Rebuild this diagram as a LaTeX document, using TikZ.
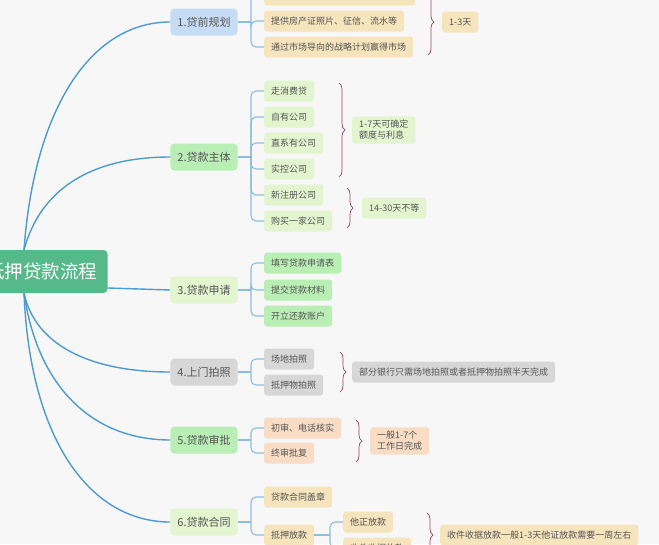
\documentclass[tikz,border=0pt]{standalone}
\usepackage{fontspec}
\setmainfont{Noto Sans CJK SC}
\usetikzlibrary{decorations.pathreplacing}
\definecolor{bg}{HTML}{F7F7F7}
\definecolor{linkblue}{HTML}{4A9BD6}
\definecolor{sublinkblue}{HTML}{8CBDE0}
\definecolor{bracered}{HTML}{A0445A}
\definecolor{rootgreen}{HTML}{55B98A}
\definecolor{skyfill}{HTML}{C6DCF4}
\definecolor{mintfill}{HTML}{B9EEB5}
\definecolor{palefill}{HTML}{E3F5CF}
\definecolor{grayfill}{HTML}{D7D7D7}
\definecolor{tanfill}{HTML}{F6E4BC}
\definecolor{peachfill}{HTML}{F8DCC4}
\definecolor{inktext}{HTML}{555555}
\tikzset{
  rootbox/.style={fill=rootgreen,rounded corners=4pt,text=white,
    font=\fontsize{18.5}{22}\selectfont,minimum height=43pt,inner xsep=10pt},
  topic/.style={rounded corners=4pt,text=inktext,
    font=\fontsize{11}{13}\selectfont,minimum height=27pt,inner xsep=7pt},
  leaf/.style={rounded corners=3pt,text=inktext,anchor=west,
    font=\fontsize{9}{11}\selectfont,minimum height=21pt,inner xsep=7pt},
  note/.style={leaf,align=left,inner ysep=4pt},
  link/.style={draw=linkblue,line width=1.4pt},
  sublink/.style={draw=sublinkblue,line width=1.1pt,rounded corners=5pt},
  curly/.style={draw=bracered,line width=0.7pt,decorate,
    decoration={brace,amplitude=6pt}}
}
\begin{document}
\begin{tikzpicture}[x=1pt,y=-1pt]
  % Background
  \path[use as bounding box,fill=bg] (0,0) rectangle (659,544);
  \clip (0,0) rectangle (659,544);

  % Root
  \node[rootbox] (root) at (42,271.5) {抵押贷款流程};
  \coordinate (rt) at (24,250);
  \coordinate (rb) at (24,293);
  \coordinate (rr) at (108,288);

  % Topics
  \node[topic,fill=skyfill] (t1) at (204,22) {1.贷前规划};
  \node[topic,fill=mintfill] (t2) at (204,157) {2.贷款主体};
  \node[topic,fill=palefill] (t3) at (204,290) {3.贷款申请};
  \node[topic,fill=grayfill] (t4) at (204,372) {4.上门拍照};
  \node[topic,fill=mintfill] (t5) at (204,440) {5.贷款审批};
  \node[topic,fill=palefill] (t6) at (204,522) {6.贷款合同};

  \draw[link] (rt) .. controls (34,110) and (90,22) .. (t1.west);
  \draw[link] (rt) .. controls (40,190) and (90,157) .. (t2.west);
  \draw[link] (rr) -- (t3.west);
  \draw[link] (rb) .. controls (35,345) and (90,372) .. (t4.west);
  \draw[link] (rb) .. controls (38,390) and (95,440) .. (t5.west);
  \draw[link] (rb) .. controls (30,440) and (90,522) .. (t6.west);

  % 1
  \node[leaf,fill=tanfill,minimum width=151pt] (l11) at (264,-5) {};
  \node[leaf,fill=tanfill] (l12) at (264,21) {提供房产证照片、征信、流水等};
  \node[leaf,fill=tanfill] (l13) at (264,47) {通过市场导向的战略计划赢得市场};
  \coordinate (j1) at (251,22);
  \draw[sublink] (t1.east) -- (j1);
  \foreach \n in {l11,l12,l13} \draw[sublink] (j1) |- (\n.west);
  \draw[curly] (428,-11) -- (428,55);
  \node[leaf,fill=tanfill] (s1) at (442,22) {1-3天};

  % 2
  \node[leaf,fill=palefill] (l21) at (264,91) {走消费贷};
  \node[leaf,fill=palefill] (l22) at (264,117) {自有公司};
  \node[leaf,fill=palefill] (l23) at (264,143) {直系有公司};
  \node[leaf,fill=palefill] (l24) at (264,169) {实控公司};
  \node[leaf,fill=palefill] (l25) at (264,195) {新注册公司};
  \node[leaf,fill=palefill] (l26) at (264,221) {购买一家公司};
  \coordinate (j2) at (251,157);
  \draw[sublink] (t2.east) -- (j2);
  \foreach \n in {l21,l22,l23,l24,l25,l26} \draw[sublink] (j2) |- (\n.west);
  \draw[curly] (339,83) -- (339,177);
  \node[note,fill=palefill] (s2) at (352,130) {1-7天可确定\\额度与利息};
  \draw[curly] (347,188) -- (347,228);
  \node[leaf,fill=palefill] (s3) at (362,208) {14-30天不等};

  % 3
  \node[leaf,fill=mintfill] (l31) at (264,263) {填写贷款申请表};
  \node[leaf,fill=mintfill] (l32) at (264,290) {提交贷款材料};
  \node[leaf,fill=mintfill] (l33) at (264,316) {开立还款账户};
  \coordinate (j3) at (251,290);
  \draw[sublink] (t3.east) -- (j3);
  \foreach \n in {l31,l32,l33} \draw[sublink] (j3) |- (\n.west);

  % 4
  \node[leaf,fill=grayfill] (l41) at (264,359) {场地拍照};
  \node[leaf,fill=grayfill] (l42) at (264,385) {抵押物拍照};
  \coordinate (j4) at (251,372);
  \draw[sublink] (t4.east) -- (j4);
  \foreach \n in {l41,l42} \draw[sublink] (j4) |- (\n.west);
  \draw[curly] (340,352) -- (340,392);
  \node[leaf,fill=grayfill] (s4) at (352,372) {部分银行只需场地拍照或者抵押物拍照半天完成};

  % 5
  \node[leaf,fill=peachfill] (l51) at (264,428) {初审、电话核实};
  \node[leaf,fill=peachfill] (l52) at (264,453) {终审批复};
  \coordinate (j5) at (251,440);
  \draw[sublink] (t5.east) -- (j5);
  \foreach \n in {l51,l52} \draw[sublink] (j5) |- (\n.west);
  \draw[curly] (356,420) -- (356,462);
  \node[note,fill=peachfill] (s5) at (370,441) {一般1-7个\\工作日完成};

  % 6
  \node[leaf,fill=tanfill] (l61) at (264,497) {贷款合同盖章};
  \node[leaf,fill=tanfill] (l62) at (264,535) {抵押放款};
  \coordinate (j6) at (251,522);
  \draw[sublink] (t6.east) -- (j6);
  \foreach \n in {l61,l62} \draw[sublink] (j6) |- (\n.west);
  \node[leaf,fill=tanfill] (m1) at (343,522) {他正放款};
  \node[leaf,fill=tanfill] (m2) at (343,548) {收件收据放款};
  \coordinate (j62) at (330,535);
  \draw[sublink] (l62.east) -- (j62);
  \foreach \n in {m1,m2} \draw[sublink] (j62) |- (\n.west);
  \draw[curly] (427,513) -- (427,557);
  \node[leaf,fill=tanfill] (s6) at (440,535) {收件收据放款一般1-3天他证放款需要一周左右};
\end{tikzpicture}
\end{document}
